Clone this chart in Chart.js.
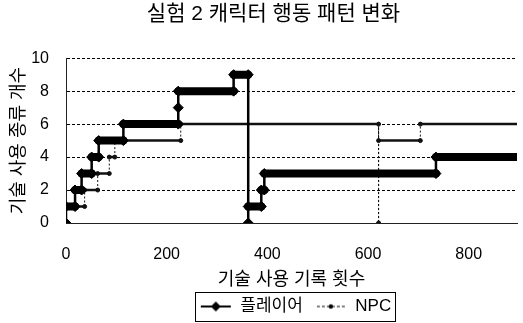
<!DOCTYPE html>
<html>
<head>
<meta charset="utf-8">
<script src="https://cdn.jsdelivr.net/npm/chart.js@4.4.1/dist/chart.umd.min.js"></script>
<style>
  html, body { margin: 0; padding: 0; background: #fff; }
  #wrap { width: 523px; height: 323px; }
</style>
</head>
<body>
<div id="wrap"><canvas id="chart" width="523" height="323"></canvas></div>
<script>
const titleText = '실험 2 캐릭터 행동 패턴 변화';
const xTitle = '기술 사용 기록 횟수';
const yTitle = '기술 사용 종류 개수';
const seriesNames = ['플레이어', 'NPC'];

// step corners (x = record count, y = kinds of skill used)
const playerX = [0, 0, 18, 18, 31, 31, 51, 51, 65, 65, 114, 114, 223, 223, 223, 333, 333, 362, 362, 362, 388, 388, 394, 394, 735, 735, 900];
const playerY = [0, 1, 1, 2, 2, 3, 3, 4, 4, 5, 5, 6, 6, 7, 8, 8, 9, 9, 0, 1, 1, 2, 2, 3, 3, 4, 4];
const npcX = [0, 0, 37, 37, 63, 63, 86, 86, 97, 97, 228, 228, 621, 621, 621, 704, 704, 900];
const npcY = [0, 1, 1, 2, 2, 3, 3, 4, 4, 5, 5, 6, 6, 0, 5, 5, 6, 6];

const xTicks = [0, 200, 400, 600, 800];
const yTicks = [0, 2, 4, 6, 8, 10];
const xMax = 896;

const FONT = "'Liberation Sans', 'Noto Sans CJK KR', sans-serif";

const toPoints = (xs, ys) => xs.map((x, i) => ({ x: x, y: ys[i] }));
const flat = ctx => ctx.p0.parsed.y === ctx.p1.parsed.y;

// small pictures for the legend: line with its marker
function legendIcon(kind) {
  const c = document.createElement('canvas');
  c.width = 32; c.height = 12;
  const g = c.getContext('2d');
  g.fillStyle = '#000';
  g.strokeStyle = '#000';
  if (kind === 0) {
    g.lineWidth = 2;
    g.beginPath(); g.moveTo(1, 6); g.lineTo(31, 6); g.stroke();
    g.beginPath(); g.moveTo(16, 1); g.lineTo(21, 6); g.lineTo(16, 11); g.lineTo(11, 6); g.closePath(); g.fill();
  } else {
    g.lineWidth = 1;
    g.setLineDash([3, 2]);
    g.beginPath(); g.moveTo(2, 6); g.lineTo(30, 6); g.stroke();
    g.beginPath(); g.arc(16, 6, 2.2, 0, Math.PI * 2); g.fill();
  }
  return c;
}
const icons = [legendIcon(0), legendIcon(1)];

// title and legend sit a bit right of the canvas centre in the original
const nudge = {
  id: 'nudge',
  afterLayout(chart) {
    const t = chart.titleBlock;
    if (t) { t.left += 12; t.right += 12; }
    const l = chart.legend;
    if (l) { l.left += 34; l.right += 34; l.top += 4; l.bottom += 4; }
  }
};

// thin frame round the legend items
const legendFrame = {
  id: 'legendFrame',
  afterDraw(chart) {
    const boxes = chart.legend && chart.legend.legendHitBoxes;
    if (!boxes || !boxes.length) return;
    const left = Math.min(...boxes.map(b => b.left)) - 5;
    const right = Math.max(...boxes.map(b => b.left + b.width)) + 4;
    const top = Math.min(...boxes.map(b => b.top)) - 6;
    const bottom = Math.max(...boxes.map(b => b.top + b.height)) + 6;
    const ctx = chart.ctx;
    ctx.save();
    ctx.strokeStyle = '#000';
    ctx.lineWidth = 1;
    ctx.strokeRect(Math.round(left) + 0.5, Math.round(top) + 0.5, Math.round(right - left), Math.round(bottom - top));
    ctx.restore();
  }
};

new Chart(document.getElementById('chart'), {
  type: 'scatter',
  data: {
    datasets: [
      {
        label: seriesNames[0],
        data: toPoints(playerX, playerY),
        showLine: true,
        borderColor: '#000',
        backgroundColor: '#000',
        pointStyle: 'rectRot',
        pointRadius: 5,
        pointHoverRadius: 5,
        borderCapStyle: 'round',
        segment: {
          borderWidth: ctx => flat(ctx) ? 8 : 2.5
        },
        order: 1
      },
      {
        label: seriesNames[1],
        data: toPoints(npcX, npcY),
        showLine: true,
        borderColor: '#111',
        backgroundColor: '#111',
        pointStyle: 'circle',
        pointRadius: 2,
        pointHoverRadius: 2,
        segment: {
          borderWidth: ctx => flat(ctx) ? 2.5 : 1,
          borderDash: ctx => flat(ctx) ? [] : [2, 2]
        },
        order: 2
      }
    ]
  },
  options: {
    responsive: false,
    animation: false,
    layout: { padding: { top: 0, right: 0, bottom: 2, left: 0 } },
    plugins: {
      title: {
        display: true,
        text: titleText,
        color: '#000',
        font: { family: FONT, size: 21, weight: 'normal', lineHeight: 1.2 },
        padding: { top: 2, bottom: 31 }
      },
      legend: {
        display: true,
        position: 'bottom',
        labels: {
          usePointStyle: true,
          pointStyleWidth: 32,
          color: '#000',
          padding: 12,
          font: { family: FONT, size: 17 },
          generateLabels: chart => chart.data.datasets.map((ds, i) => ({
            text: ds.label,
            pointStyle: icons[i],
            fillStyle: '#000',
            strokeStyle: '#000',
            lineWidth: 0,
            hidden: false,
            datasetIndex: i,
            fontColor: '#000'
          }))
        }
      },
      tooltip: { enabled: false }
    },
    scales: {
      x: {
        type: 'linear',
        min: 0,
        max: xMax,
        afterBuildTicks: axis => { axis.ticks = xTicks.map(v => ({ value: v })); },
        afterFit: scale => { scale.height = 323 - 223 - scale.chart.legend.height - 2; },
        grid: { display: false, drawTicks: false },
        border: { display: true, color: '#222', width: 1 },
        ticks: { color: '#000', padding: 22, maxRotation: 0, font: { family: FONT, size: 16 } },
        title: {
          display: true,
          text: xTitle,
          color: '#000',
          font: { family: FONT, size: 18 },
          padding: { top: 0, bottom: -9 }
        }
      },
      y: {
        min: 0,
        max: 10,
        afterBuildTicks: axis => { axis.ticks = yTicks.map(v => ({ value: v })); },
        afterFit: scale => { scale.width = 66; },
        grid: { color: '#000', lineWidth: 1, drawTicks: false },
        border: { display: true, color: '#222', width: 1, dash: [3, 2] },
        ticks: { color: '#000', padding: 17, font: { family: FONT, size: 16 } },
        title: {
          display: true,
          text: yTitle,
          color: '#000',
          font: { family: FONT, size: 18 },
          padding: { top: 8, bottom: 0 }
        }
      }
    }
  },
  plugins: [nudge, legendFrame]
});
</script>
</body>
</html>
